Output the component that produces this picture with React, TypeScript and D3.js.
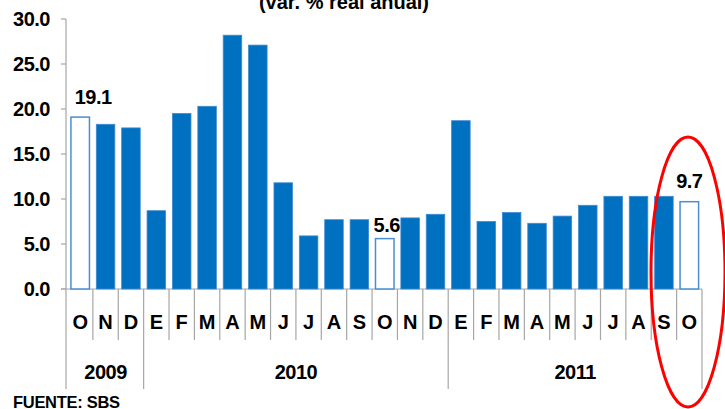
import React from "react";
import * as d3 from "d3";

const months = ["O","N","D","E","F","M","A","M","J","J","A","S","O","N","D","E","F","M","A","M","J","J","A","S","O"];
const values = [19.1,18.3,17.9,8.7,19.5,20.3,28.2,27.1,11.8,5.9,7.7,7.7,5.6,7.9,8.3,18.7,7.5,8.5,7.3,8.1,9.3,10.3,10.3,10.3,9.7];
const hollow = [0, 12, 24];
const years = ["2009","2010","2011"];
const yearStarts = [0, 3, 15];
const yearEnds = [3, 15, 25];
const yTicks = [0, 5, 10, 15, 20, 25, 30];
const title = "(var. % real anual)";
const source = "FUENTE: SBS";

const LABEL_OFFSETS: Record<number, { dx: number; dy: number }> = {
  0: { dx: 13, dy: -13 },
  12: { dx: 2, dy: -7 },
  24: { dx: 0, dy: -14 },
};

const FONT = "'Liberation Sans', Arial, sans-serif";
const BLUE = "#0070C0";
const GRID = "#a6a6a6";

export default function App() {
  const W = 725, H = 409;
  const x0 = 67.5, x1 = 702;
  const y = d3.scaleLinear().domain([0, 30]).range([289, 19]);
  const x = d3.scaleBand<number>().domain(d3.range(months.length)).range([x0, x1]).paddingInner(0.27).paddingOuter(0.135);
  const step = (x1 - x0) / months.length;
  const bx = (i: number) => x0 + i * step;
  const yAxisX = 66;
  const base = y(0);

  return (
    <svg width={W} height={H} style={{ position: "fixed", left: 0, top: 0, background: "#fff" }} fontFamily={FONT}>
      <rect width={W} height={H} fill="#fff" />
      <text x={344} y={9} textAnchor="middle" fontSize={20} fontWeight="bold">{title}</text>
      {/* y axis */}
      <line x1={yAxisX} x2={yAxisX} y1={y(30)} y2={389} stroke={GRID} strokeWidth={1.2} />
      {yTicks.map((t) => (
        <g key={t}>
          <line x1={yAxisX - 5} x2={yAxisX} y1={y(t)} y2={y(t)} stroke={GRID} strokeWidth={1.2} />
          <text x={50} y={y(t)} dy="0.36em" textAnchor="end" fontSize={20} fontWeight="bold" letterSpacing={-0.5}>{t.toFixed(1)}</text>
        </g>
      ))}
      {/* x axis */}
      <line x1={yAxisX - 5} x2={x1} y1={base} y2={base} stroke={GRID} strokeWidth={1.2} />
      {months.map((_, i) => (i === 0 ? null : (
        <line key={"s" + i} x1={bx(i)} x2={bx(i)} y1={base} y2={yearStarts.includes(i) ? 389 : 340} stroke={GRID} strokeWidth={1.2} />
      )))}
      <line x1={x1} x2={x1} y1={base} y2={389} stroke={GRID} strokeWidth={1.2} />
      {/* bars */}
      {values.map((v, i) => {
        const isH = hollow.includes(i);
        return (
          <rect key={"b" + i} x={x(i)!} y={y(v)} width={x.bandwidth()} height={base - y(v)}
            fill={isH ? "#fff" : BLUE} stroke={isH ? "#4a8fcf" : "#3f8ad0"} strokeWidth={isH ? 1.5 : 0.8} />
        );
      })}
      {hollow.map((i) => (
        <text key={"l" + i} x={x(i)! + x.bandwidth() / 2 + LABEL_OFFSETS[i].dx} y={y(values[i]) + LABEL_OFFSETS[i].dy}
          textAnchor="middle" fontSize={20} fontWeight="bold" letterSpacing={-0.5}>{values[i].toFixed(1)}</text>
      ))}
      {months.map((m, i) => (
        <text key={"m" + i} x={x(i)! + x.bandwidth() / 2} y={329} textAnchor="middle" fontSize={20} fontWeight="bold">{m}</text>
      ))}
      {years.map((yr, k) => (
        <text key={yr} x={(bx(yearStarts[k]) + bx(yearEnds[k])) / 2} y={379} textAnchor="middle" fontSize={20} fontWeight="bold" letterSpacing={-0.5}>{yr}</text>
      ))}
      <text x={13} y={408} fontSize={16.5} fontWeight="bold" letterSpacing={-0.3}>{source}</text>
      <ellipse cx={688} cy={272} rx={37} ry={135} fill="none" stroke="#ff0000" strokeWidth={3} />
    </svg>
  );
}
